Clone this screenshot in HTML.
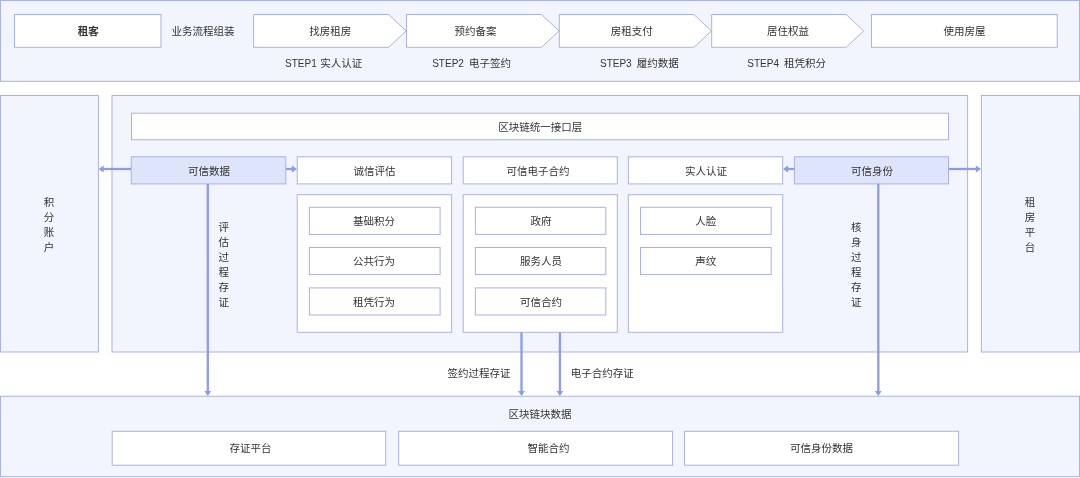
<!DOCTYPE html>
<html lang="zh"><head><meta charset="utf-8"><title>区块链租房</title>
<style>
html,body{margin:0;padding:0;background:#fff;}
svg{display:block;filter:blur(0.5px);font-family:"Liberation Sans","Noto Sans CJK SC",sans-serif;}
</style></head><body>
<svg width="1080" height="478" viewBox="0 0 1080 478">
<rect x="0" y="0" width="1080" height="478" fill="#fff"/>
<rect x="0.5" y="0.5" width="1079.00" height="80.80" fill="#F2F5FD" stroke="#A9B2E6" stroke-width="1"/>
<rect x="14.5" y="14.5" width="146.50" height="32.80" fill="#fff" stroke="#A9B2E6" stroke-width="1"/>
<text x="88.3" y="31.3" font-size="10.5" fill="#333333" font-weight="500" stroke="#333333" stroke-width="0.25" text-anchor="middle" dominant-baseline="central">租客</text>
<text x="202.9" y="31.3" font-size="10.5" fill="#333333" text-anchor="middle" dominant-baseline="central">业务流程组装</text>
<polygon points="253.6,14.5 388.7,14.5 406.2,30.9 388.7,47.3 253.6,47.3" fill="#fff" stroke="#A9B2E6" stroke-width="1"/>
<text x="330.3" y="31.3" font-size="10.5" fill="#333333" text-anchor="middle" dominant-baseline="central">找房租房</text>
<text x="323.7" y="63.2" font-size="10.5" fill="#333333" text-anchor="middle" dominant-baseline="central"><tspan font-size="10">STEP1</tspan><tspan dx="0.6"> 实人认证</tspan></text>
<polygon points="406.5,14.5 541.5,14.5 559.0,30.9 541.5,47.3 406.5,47.3" fill="#fff" stroke="#A9B2E6" stroke-width="1"/>
<text x="475.5" y="31.3" font-size="10.5" fill="#333333" text-anchor="middle" dominant-baseline="central">预约备案</text>
<text x="471.6" y="63.2" font-size="10.5" fill="#333333" text-anchor="middle" dominant-baseline="central"><tspan font-size="10">STEP2</tspan><tspan dx="2.2"> 电子签约</tspan></text>
<polygon points="559.3,14.5 693.9,14.5 711.4,30.9 693.9,47.3 559.3,47.3" fill="#fff" stroke="#A9B2E6" stroke-width="1"/>
<text x="631.7" y="31.3" font-size="10.5" fill="#333333" text-anchor="middle" dominant-baseline="central">房租支付</text>
<text x="639.4" y="63.2" font-size="10.5" fill="#333333" text-anchor="middle" dominant-baseline="central"><tspan font-size="10">STEP3</tspan><tspan dx="2.2"> 履约数据</tspan></text>
<polygon points="711.7,14.5 846.2,14.5 863.7,30.9 846.2,47.3 711.7,47.3" fill="#fff" stroke="#A9B2E6" stroke-width="1"/>
<text x="788" y="31.3" font-size="10.5" fill="#333333" text-anchor="middle" dominant-baseline="central">居住权益</text>
<text x="786.7" y="63.2" font-size="10.5" fill="#333333" text-anchor="middle" dominant-baseline="central"><tspan font-size="10">STEP4</tspan><tspan dx="2.2"> 租凭积分</tspan></text>
<rect x="871.5" y="14.5" width="185.70" height="32.80" fill="#fff" stroke="#A9B2E6" stroke-width="1"/>
<text x="964.6" y="31.3" font-size="10.5" fill="#333333" text-anchor="middle" dominant-baseline="central">使用房屋</text>
<rect x="0.5" y="95.5" width="97.90" height="256.50" fill="#F2F5FD" stroke="#A9B2E6" stroke-width="1"/>
<rect x="112" y="95.5" width="855.60" height="256.50" fill="#F2F5FD" stroke="#A9B2E6" stroke-width="1"/>
<rect x="981.4" y="95.5" width="98.10" height="256.50" fill="#F2F5FD" stroke="#A9B2E6" stroke-width="1"/>
<text x="49" y="201.9" font-size="10.5" fill="#333333" text-anchor="middle" dominant-baseline="central">积</text>
<text x="49" y="216.9" font-size="10.5" fill="#333333" text-anchor="middle" dominant-baseline="central">分</text>
<text x="49" y="231.9" font-size="10.5" fill="#333333" text-anchor="middle" dominant-baseline="central">账</text>
<text x="49" y="246.9" font-size="10.5" fill="#333333" text-anchor="middle" dominant-baseline="central">户</text>
<text x="1030" y="201.9" font-size="10.5" fill="#333333" text-anchor="middle" dominant-baseline="central">租</text>
<text x="1030" y="216.9" font-size="10.5" fill="#333333" text-anchor="middle" dominant-baseline="central">房</text>
<text x="1030" y="231.9" font-size="10.5" fill="#333333" text-anchor="middle" dominant-baseline="central">平</text>
<text x="1030" y="246.9" font-size="10.5" fill="#333333" text-anchor="middle" dominant-baseline="central">台</text>
<rect x="131.5" y="113.2" width="817.00" height="26.50" fill="#fff" stroke="#A9B2E6" stroke-width="1"/>
<text x="540.2" y="127" font-size="10.5" fill="#333333" text-anchor="middle" dominant-baseline="central">区块链统一接口层</text>
<rect x="131.3" y="156.8" width="154.50" height="27.10" fill="#DEE4FA" stroke="#A9B2E6" stroke-width="1"/>
<text x="209.1" y="171.2" font-size="10.5" fill="#333333" text-anchor="middle" dominant-baseline="central">可信数据</text>
<rect x="297.2" y="156.8" width="154.40" height="27.10" fill="#fff" stroke="#A9B2E6" stroke-width="1"/>
<text x="374.5" y="171.2" font-size="10.5" fill="#333333" text-anchor="middle" dominant-baseline="central">诚信评估</text>
<rect x="463.2" y="156.8" width="154.10" height="27.10" fill="#fff" stroke="#A9B2E6" stroke-width="1"/>
<text x="538.1" y="171.2" font-size="10.5" fill="#333333" text-anchor="middle" dominant-baseline="central">可信电子合约</text>
<rect x="628.3" y="156.8" width="154.40" height="27.10" fill="#fff" stroke="#A9B2E6" stroke-width="1"/>
<text x="706" y="171.2" font-size="10.5" fill="#333333" text-anchor="middle" dominant-baseline="central">实人认证</text>
<rect x="794.4" y="156.8" width="154.10" height="27.10" fill="#DEE4FA" stroke="#A9B2E6" stroke-width="1"/>
<text x="871.9" y="171.2" font-size="10.5" fill="#333333" text-anchor="middle" dominant-baseline="central">可信身份</text>
<rect x="297.2" y="194.7" width="154.40" height="137.60" fill="#fff" stroke="#A9B2E6" stroke-width="1"/>
<rect x="309.4" y="207.3" width="130.70" height="27.10" fill="#fff" stroke="#A9B2E6" stroke-width="1"/>
<text x="374.0" y="221.0" font-size="10.5" fill="#333333" text-anchor="middle" dominant-baseline="central">基础积分</text>
<rect x="309.4" y="247.5" width="130.70" height="27.10" fill="#fff" stroke="#A9B2E6" stroke-width="1"/>
<text x="374.0" y="261.2" font-size="10.5" fill="#333333" text-anchor="middle" dominant-baseline="central">公共行为</text>
<rect x="309.4" y="287.9" width="130.70" height="27.10" fill="#fff" stroke="#A9B2E6" stroke-width="1"/>
<text x="374.0" y="301.59999999999997" font-size="10.5" fill="#333333" text-anchor="middle" dominant-baseline="central">租凭行为</text>
<rect x="463.2" y="194.7" width="154.10" height="137.60" fill="#fff" stroke="#A9B2E6" stroke-width="1"/>
<rect x="475.4" y="207.3" width="130.40" height="27.10" fill="#fff" stroke="#A9B2E6" stroke-width="1"/>
<text x="540.95" y="221.0" font-size="10.5" fill="#333333" text-anchor="middle" dominant-baseline="central">政府</text>
<rect x="475.4" y="247.5" width="130.40" height="27.10" fill="#fff" stroke="#A9B2E6" stroke-width="1"/>
<text x="540.95" y="261.2" font-size="10.5" fill="#333333" text-anchor="middle" dominant-baseline="central">服务人员</text>
<rect x="475.4" y="287.9" width="130.40" height="27.10" fill="#fff" stroke="#A9B2E6" stroke-width="1"/>
<text x="540.95" y="301.59999999999997" font-size="10.5" fill="#333333" text-anchor="middle" dominant-baseline="central">可信合约</text>
<rect x="628.3" y="194.7" width="154.40" height="137.60" fill="#fff" stroke="#A9B2E6" stroke-width="1"/>
<rect x="640.5" y="207.3" width="130.70" height="27.10" fill="#fff" stroke="#A9B2E6" stroke-width="1"/>
<text x="705.8" y="221.0" font-size="10.5" fill="#333333" text-anchor="middle" dominant-baseline="central">人脸</text>
<rect x="640.5" y="247.5" width="130.70" height="27.10" fill="#fff" stroke="#A9B2E6" stroke-width="1"/>
<text x="705.8" y="261.2" font-size="10.5" fill="#333333" text-anchor="middle" dominant-baseline="central">声纹</text>
<text x="223.7" y="227.3" font-size="10.5" fill="#333333" text-anchor="middle" dominant-baseline="central">评</text>
<text x="223.7" y="242.3" font-size="10.5" fill="#333333" text-anchor="middle" dominant-baseline="central">估</text>
<text x="223.7" y="257.3" font-size="10.5" fill="#333333" text-anchor="middle" dominant-baseline="central">过</text>
<text x="223.7" y="272.3" font-size="10.5" fill="#333333" text-anchor="middle" dominant-baseline="central">程</text>
<text x="223.7" y="287.3" font-size="10.5" fill="#333333" text-anchor="middle" dominant-baseline="central">存</text>
<text x="223.7" y="302.3" font-size="10.5" fill="#333333" text-anchor="middle" dominant-baseline="central">证</text>
<text x="856.2" y="227.3" font-size="10.5" fill="#333333" text-anchor="middle" dominant-baseline="central">核</text>
<text x="856.2" y="242.3" font-size="10.5" fill="#333333" text-anchor="middle" dominant-baseline="central">身</text>
<text x="856.2" y="257.3" font-size="10.5" fill="#333333" text-anchor="middle" dominant-baseline="central">过</text>
<text x="856.2" y="272.3" font-size="10.5" fill="#333333" text-anchor="middle" dominant-baseline="central">程</text>
<text x="856.2" y="287.3" font-size="10.5" fill="#333333" text-anchor="middle" dominant-baseline="central">存</text>
<text x="856.2" y="302.3" font-size="10.5" fill="#333333" text-anchor="middle" dominant-baseline="central">证</text>
<line x1="131" y1="169" x2="102.1" y2="169" stroke="#8D9BE8" stroke-width="2.3"/>
<polygon points="98.6,169 103.69999999999999,165.6 103.69999999999999,172.4" fill="#8D9BE8"/>
<line x1="286" y1="169" x2="293.5" y2="169" stroke="#8D9BE8" stroke-width="2.3"/>
<polygon points="297,169 291.9,165.6 291.9,172.4" fill="#8D9BE8"/>
<line x1="794.4" y1="169" x2="786.5" y2="169" stroke="#8D9BE8" stroke-width="2.3"/>
<polygon points="783,169 788.1,165.6 788.1,172.4" fill="#8D9BE8"/>
<line x1="948.7" y1="169" x2="977.5" y2="169" stroke="#8D9BE8" stroke-width="2.3"/>
<polygon points="981,169 975.9,165.6 975.9,172.4" fill="#8D9BE8"/>
<line x1="207.8" y1="184" x2="207.8" y2="392.5" stroke="#8D9BE8" stroke-width="2.3"/>
<polygon points="207.8,396 204.4,390.9 211.20000000000002,390.9" fill="#8D9BE8"/>
<line x1="878.3" y1="184" x2="878.3" y2="392.5" stroke="#8D9BE8" stroke-width="2.3"/>
<polygon points="878.3,396 874.9,390.9 881.6999999999999,390.9" fill="#8D9BE8"/>
<line x1="521.5" y1="332.5" x2="521.5" y2="392.5" stroke="#8D9BE8" stroke-width="2.3"/>
<polygon points="521.5,396 518.1,390.9 524.9,390.9" fill="#8D9BE8"/>
<line x1="559.9" y1="332.5" x2="559.9" y2="392.5" stroke="#8D9BE8" stroke-width="2.3"/>
<polygon points="559.9,396 556.5,390.9 563.3,390.9" fill="#8D9BE8"/>
<text x="479" y="373.2" font-size="10.5" fill="#333333" text-anchor="middle" dominant-baseline="central">签约过程存证</text>
<text x="602.3" y="373.2" font-size="10.5" fill="#333333" text-anchor="middle" dominant-baseline="central">电子合约存证</text>
<rect x="0.5" y="396.2" width="1079.00" height="80.50" fill="#F2F5FD" stroke="#A9B2E6" stroke-width="1"/>
<text x="540" y="414.4" font-size="10.5" fill="#333333" text-anchor="middle" dominant-baseline="central">区块链块数据</text>
<rect x="112.2" y="431.3" width="273.50" height="33.90" fill="#fff" stroke="#A9B2E6" stroke-width="1"/>
<text x="250.6" y="448.3" font-size="10.5" fill="#333333" text-anchor="middle" dominant-baseline="central">存证平台</text>
<rect x="398.7" y="431.3" width="273.80" height="33.90" fill="#fff" stroke="#A9B2E6" stroke-width="1"/>
<text x="548.6" y="448.3" font-size="10.5" fill="#333333" text-anchor="middle" dominant-baseline="central">智能合约</text>
<rect x="684.5" y="431.3" width="274.10" height="33.90" fill="#fff" stroke="#A9B2E6" stroke-width="1"/>
<text x="821.4" y="448.3" font-size="10.5" fill="#333333" text-anchor="middle" dominant-baseline="central">可信身份数据</text>
</svg>
</body></html>
